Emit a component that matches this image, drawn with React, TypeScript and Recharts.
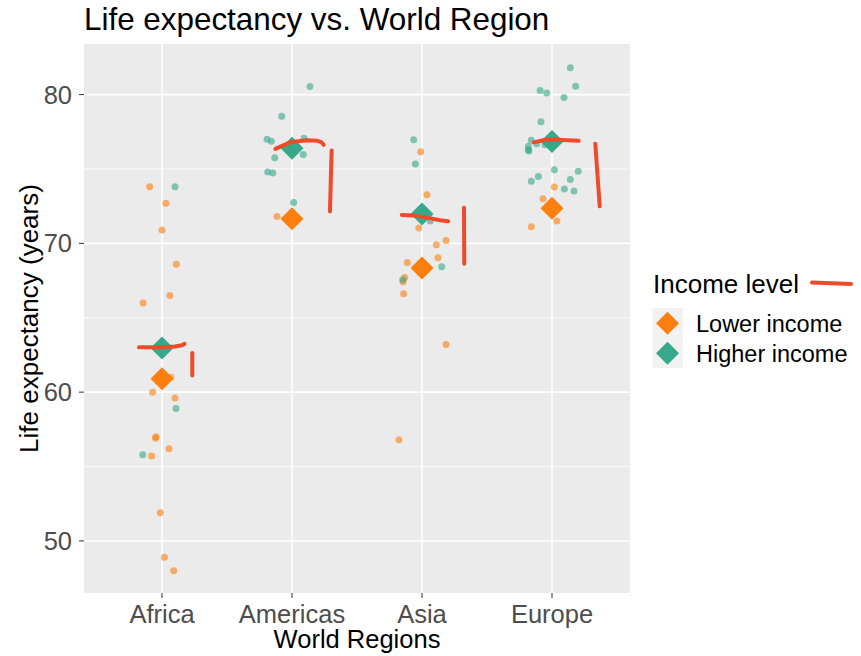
import React from "react";
import { ScatterChart, Scatter, XAxis, YAxis, CartesianGrid, Label } from "recharts";

// ── Axis setup ───────────────────────────────────────────────────────────────
const REGIONS = ["Africa", "Americas", "Asia", "Europe"];
const Y_TICKS = [50, 60, 70, 80];
const Y_MINOR = [55, 65, 75];

// ── Country life expectancy, with horizontal jitter (in category units) ──────
const africaLower = [73.8, 72.7, 70.9, 68.6, 66.5, 66.0, 61.0, 60.0, 59.6, 57.0, 56.9, 56.2, 55.7, 51.9, 48.9, 48.0];
const africaLowerJitter = [-0.095, 0.03, 0.0, 0.11, 0.06, -0.145, 0.067, -0.072, 0.1, -0.046, -0.05, 0.054, -0.08, -0.013, 0.018, 0.09];
const africaHigher = [73.8, 58.9, 55.8];
const africaHigherJitter = [0.1, 0.108, -0.148];

const americasLower = [71.8, 71.5];
const americasLowerJitter = [-0.115, 0.02];
const americasHigher = [80.54, 78.54, 77.0, 76.86, 77.06, 75.97, 75.76, 74.8, 74.73, 72.74];
const americasHigherJitter = [0.138, -0.079, -0.192, -0.159, 0.092, 0.087, -0.133, -0.187, -0.148, 0.013];

const asiaLower = [76.15, 73.27, 71.03, 70.2, 69.9, 69.04, 68.72, 67.7, 67.42, 66.62, 63.21, 56.8];
const asiaLowerJitter = [-0.01, 0.038, -0.025, 0.185, 0.11, 0.123, -0.113, -0.133, -0.146, -0.141, 0.185, -0.177];
const asiaHigher = [76.97, 75.34, 71.5, 68.43, 67.56];
const asiaHigherJitter = [-0.064, -0.051, 0.064, 0.152, -0.148];

const europeLower = [73.79, 73.0, 71.5, 71.12];
const europeLowerJitter = [0.018, -0.069, 0.038, -0.159];
const europeHigher = [81.8, 80.56, 80.27, 80.11, 79.8, 78.18, 76.93, 76.7, 76.62, 76.52, 76.3, 76.2, 74.94, 74.84, 74.49, 74.17, 74.3, 73.66, 73.52];
const europeHigherJitter = [0.141, 0.182, -0.092, -0.041, 0.092, -0.085, -0.159, -0.118, -0.054, -0.182, -0.182, -0.178, 0.018, 0.202, -0.105, -0.159, 0.141, 0.095, 0.169];

// group means
const meanLower = [60.9, 71.66, 68.35, 72.36];
const meanHigher = [62.97, 76.39, 71.98, 76.84];

// red hand-drawn annotation strokes, as [x, y] in data space
const africaStroke = [[0.823, 63.01], [0.985, 63.02], [1.1, 63.07], [1.154, 63.15], [1.173, 63.25]];
const africaBar = [[1.233, 62.63], [1.233, 61.12]];
const americasStroke = [[1.872, 76.35], [1.985, 76.79], [2.113, 76.93], [2.195, 76.89], [2.225, 76.8], [2.244, 76.62]];
const americasBar = [[2.305, 76.25], [2.292, 72.15]];
const asiaStroke = [[2.844, 71.91], [2.933, 71.88], [3.036, 71.73], [3.138, 71.55], [3.202, 71.48]];
const asiaBar = [[3.323, 72.4], [3.325, 68.63]];
const europeStroke = [[3.859, 76.79], [3.933, 76.93], [4.036, 76.97], [4.205, 76.89]];
const europeBar = [[4.333, 76.7], [4.367, 72.49]];

const ORANGE = "#FF7F0E";
const GREEN = "#36A98A";
const RED = "#EF4A2A";
const FONT = "'Liberation Sans', Arial, Helvetica, sans-serif";

const toPoints = (vals: number[], jit: number[], region: number) =>
  vals.map((y, i) => ({ x: region + 1 + jit[i], y }));

const lowerPoints = [
  ...toPoints(africaLower, africaLowerJitter, 0),
  ...toPoints(americasLower, americasLowerJitter, 1),
  ...toPoints(asiaLower, asiaLowerJitter, 2),
  ...toPoints(europeLower, europeLowerJitter, 3),
];
const higherPoints = [
  ...toPoints(africaHigher, africaHigherJitter, 0),
  ...toPoints(americasHigher, americasHigherJitter, 1),
  ...toPoints(asiaHigher, asiaHigherJitter, 2),
  ...toPoints(europeHigher, europeHigherJitter, 3),
];
const lowerMeans = meanLower.map((y, i) => ({ x: i + 1, y }));
const higherMeans = meanHigher.map((y, i) => ({ x: i + 1, y }));

const strokes = [africaStroke, africaBar, americasStroke, americasBar, asiaStroke, asiaBar, europeStroke, europeBar].map(
  (s) => s.map(([x, y]) => ({ x, y }))
);

const dot = (fill: string) => (p: any) =>
  <circle cx={p.cx} cy={p.cy} r={3.5} fill={fill} fillOpacity={0.6} />;

const diamond = (fill: string, h = 11.5) => (p: any) =>
  <polygon
    points={`${p.cx},${p.cy - h} ${p.cx + h},${p.cy} ${p.cx},${p.cy + h} ${p.cx - h},${p.cy}`}
    fill={fill}
  />;

const tickStyle = { fill: "#4D4D4D", fontSize: 25.5, fontFamily: FONT };

export default function App() {
  return (
    <div style={{ position: "absolute", left: 0, top: 0, width: 861, height: 656, background: "#fff" }}>
      <ScatterChart width={861} height={656} margin={{ top: 44, right: 231, bottom: 0, left: 0 }}>
        <CartesianGrid fill="#EBEBEB" fillOpacity={1} stroke="#FFFFFF" strokeWidth={0.8}
          horizontalValues={Y_MINOR} vertical={false} />
        <CartesianGrid stroke="#FFFFFF" strokeWidth={1.6}
          horizontalValues={Y_TICKS} verticalValues={[1, 2, 3, 4]} />
        <XAxis type="number" dataKey="x" domain={[0.4, 4.6]} allowDataOverflow ticks={[1, 2, 3, 4]}
          interval={0} tickFormatter={(v: number) => REGIONS[v - 1]} height={63}
          axisLine={false} tickSize={5} tickMargin={7} tickLine={{ stroke: "#333333" }} tick={tickStyle}>
          <Label content={(props: any) => {
            const vb = props.viewBox;
            return (
              <text x={vb.x + vb.width / 2} y={648} textAnchor="middle" fontSize={25.5} fontFamily={FONT} fill="#000">
                World Regions
              </text>
            );
          }} />
        </XAxis>
        <YAxis type="number" dataKey="y" domain={[46.5, 83.4]} allowDataOverflow ticks={Y_TICKS}
          interval={0} width={84} axisLine={false} tickSize={5} tickMargin={7}
          tickLine={{ stroke: "#333333" }} tick={tickStyle}>
          <Label content={(props: any) => {
            const vb = props.viewBox;
            const cy = vb.y + vb.height / 2;
            return (
              <text x={38} y={cy} transform={`rotate(-90, 38, ${cy})`} textAnchor="middle"
                fontSize={26} fontFamily={FONT} fill="#000">
                Life expectancy (years)
              </text>
            );
          }} />
        </YAxis>
        <Scatter data={lowerPoints} shape={dot(ORANGE)} isAnimationActive={false} />
        <Scatter data={higherPoints} shape={dot(GREEN)} isAnimationActive={false} />
        <Scatter data={lowerMeans} shape={diamond(ORANGE)} isAnimationActive={false} />
        <Scatter data={higherMeans} shape={diamond(GREEN)} isAnimationActive={false} />
        {strokes.map((s, i) => (
          <Scatter key={i} data={s} shape={() => <g />} lineType="joint"
            line={{ stroke: RED, strokeWidth: 4, strokeLinecap: "round", strokeLinejoin: "round" }}
            isAnimationActive={false} />
        ))}
      </ScatterChart>
      <svg width={861} height={656} style={{ position: "absolute", left: 0, top: 0, pointerEvents: "none" }}>
        <text x={84} y={29.5} fontSize={31.4} fontFamily={FONT} fill="#000">Life expectancy vs. World Region</text>
        <text x={653} y={293} fontSize={26} fontFamily={FONT} fill="#000">Income level</text>
        <path d="M812 282.5 Q832 283 851 284" stroke={RED} strokeWidth={4} strokeLinecap="round" fill="none" />
        <rect x={652.5} y={308} width={30.5} height={60} fill="#F2F2F2" />
        {diamond(ORANGE)({ cx: 667.5, cy: 323.3 })}
        {diamond(GREEN)({ cx: 667.5, cy: 353.3 })}
        <text x={696} y={332} fontSize={23.5} fontFamily={FONT} fill="#000">Lower income</text>
        <text x={696} y={362} fontSize={23.5} fontFamily={FONT} fill="#000">Higher income</text>
      </svg>
    </div>
  );
}
